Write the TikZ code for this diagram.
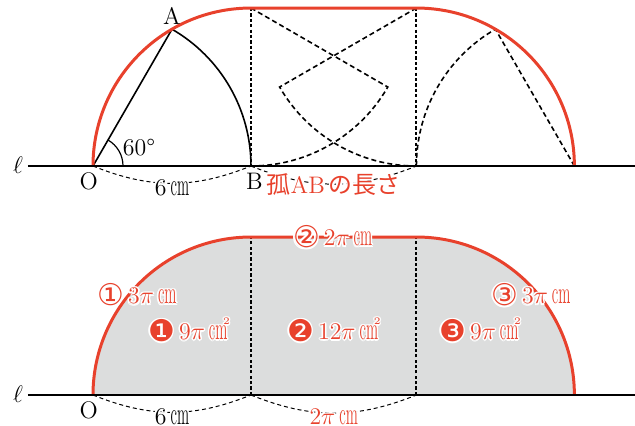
\documentclass[tikz,border=0pt]{standalone}
\usepackage{fontspec}
\newfontfamily\jpfont{Noto Sans CJK JP}
\newfontfamily\symfont{DejaVu Sans}
\usetikzlibrary{arrows.meta,positioning,calc}
\definecolor{RollRed}{HTML}{E8412C}
\definecolor{RollGray}{HTML}{DCDDDD}
\newcommand\cmunit{\scalebox{0.62}[1.3]{cm}}
\newcommand\sqcmunit{\cmunit\kern-2.2pt\raisebox{1.45ex}{\tiny 2}}
\newcommand\numsym[1]{\raisebox{-1pt}{\symfont\fontsize{15}{15}\selectfont #1}}
% white outline behind a label
\newcommand\halotext[1]{%
  \leavevmode
  \rlap{\color{white}\kern.8pt#1}%
  \rlap{\color{white}\kern-.8pt#1}%
  \rlap{\color{white}\raisebox{.8pt}{#1}}%
  \rlap{\color{white}\raisebox{-.8pt}{#1}}%
  \rlap{\color{white}\kern.6pt\raisebox{.6pt}{#1}}%
  \rlap{\color{white}\kern-.6pt\raisebox{.6pt}{#1}}%
  \rlap{\color{white}\kern.6pt\raisebox{-.6pt}{#1}}%
  \rlap{\color{white}\kern-.6pt\raisebox{-.6pt}{#1}}%
  #1}

\begin{document}
\begin{tikzpicture}[x=0.4644cm, y=0.4644cm, font=\large, >=Stealth,
   redpath/.style={RollRed, line width=1.5pt},
   ground/.style={line width=0.9pt},
   sector/.style={line width=0.8pt},
   ghost/.style={line width=0.8pt, dash pattern=on 2.5pt off 1.6pt},
   upright/.style={line width=1pt, dash pattern=on 1.6pt off 1.1pt},
   measure/.style={line width=0.5pt, dash pattern=on 2pt off 1.5pt},
   redlabel/.style={text=RollRed, inner sep=1pt}]
  \useasboundingbox (-3.532,-9.837) rectangle (20.585,6.305);

  % upper figure: the fan and where it goes
  \coordinate (O)  at (0,0);
  \coordinate (B)  at (6,0);
  \coordinate (A)  at (60:6);
  \coordinate (O1) at (6,6);
  \coordinate (A1) at (11.196,3);
  \coordinate (O2) at (12.283,6);
  \coordinate (A2) at (12.283,0);
  \coordinate (B2) at (7.087,3);
  \coordinate (O3) at (18.283,0);
  \coordinate (lineL) at (-2.47,0);
  \coordinate (lineR) at (20.585,0);

  \draw[upright] (O1) -- (B);
  \draw[ghost] (O1) -- (A1) arc[start angle=-30, end angle=-90, radius=6];
  \draw[upright] (O2) -- (A2);
  \draw[ghost] (O2) -- (B2) arc[start angle=-150, end angle=-90, radius=6];
  \draw[ghost] (A2) arc[start angle=180, end angle=120, radius=6] -- (O3);
  \draw[sector] (B) -- (O) -- (A) arc[start angle=60, end angle=0, radius=6];
  \draw[line width=0.6pt] (1.14,0) arc[start angle=0, end angle=60, radius=1.14];
  \draw[redpath] (O) arc[start angle=180, end angle=90, radius=6] -- (O2)
    arc[start angle=90, end angle=0, radius=6];
  \draw[ground] (lineL) -- (lineR);

  \node (ell) at (-2.85,0.05) {$\ell$};
  \node[above=-1pt of A] (labA) {A};
  \node[below left=0pt and -6pt of O] (labO) {O};
  \node[below right=0pt and -6pt of B] (labB) {B};
  \node (ang) at (1.75,0.7) {60°};
  \draw[measure] (O) to[bend right=22]
    node[pos=.5, yshift=-2pt, inner sep=1pt]{\halotext{6\,\cmunit}} (B);
  \draw[measure] (B) to[bend right=22]
    node[redlabel, pos=.5]{\halotext{{\jpfont 孤}AB\,{\jpfont の長さ}}} (A2);

  % lower figure: the region swept by the fan
  \begin{scope}[shift={(0,-8.697)}]
    \coordinate (bO)  at (0,0);
    \coordinate (bB)  at (6,0);
    \coordinate (bC)  at (12.283,0);
    \coordinate (bBt) at (6,6);
    \coordinate (bCt) at (12.283,6);
    \coordinate (blineL) at (-2.47,0);
    \coordinate (blineR) at (20.585,0);

    \fill[RollGray] (bO) arc[start angle=180, end angle=90, radius=6] -- (bCt)
      arc[start angle=90, end angle=0, radius=6] -- cycle;
    \draw[upright] (bB) -- (bBt);
    \draw[upright] (bC) -- (bCt);
    \draw[redpath] (bO) arc[start angle=180, end angle=90, radius=6] -- (bCt)
      arc[start angle=90, end angle=0, radius=6];
    \draw[ground] (blineL) -- (blineR);

    \node (bell) at (-2.85,0.05) {$\ell$};
    \node[below left=0pt and -6pt of bO] (blabO) {O};
    \draw[measure] (bO) to[bend right=22]
      node[pos=.5, yshift=-2pt, inner sep=1pt]{\halotext{6\,\cmunit}} (bB);
    \draw[measure] (bB) to[bend right=22]
      node[redlabel, pos=.5, yshift=-2pt]{\halotext{$2\pi$\,\cmunit}} (bC);

    \node[redlabel] (arc1) at (1.67,3.8) {\halotext{\numsym{①}\,$3\pi$\,\cmunit}};
    \node[redlabel] (arc2) at (9.1,6) {\halotext{\numsym{②}\,$2\pi$\,\cmunit}};
    \node[redlabel] (arc3) at (16.63,3.8) {\halotext{\numsym{③}\,$3\pi$\,\cmunit}};
    \node[redlabel] (area1) at (3.65,2.47) {\halotext{\numsym{❶}\,$9\pi$\,\sqcmunit}};
    \node[redlabel] (area2) at (9.15,2.47) {\halotext{\numsym{❷}\,$12\pi$\,\sqcmunit}};
    \node[redlabel] (area3) at (14.7,2.47) {\halotext{\numsym{❸}\,$9\pi$\,\sqcmunit}};
  \end{scope}
\end{tikzpicture}
\end{document}
